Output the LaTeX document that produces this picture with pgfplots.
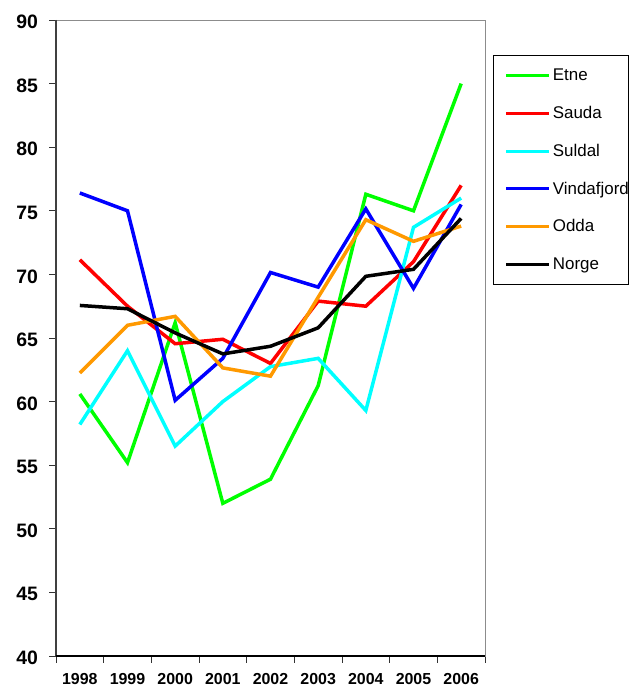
\documentclass[border=0pt]{standalone}
\usepackage{fontspec}
\setmainfont{Liberation Sans}
\usepackage{pgfplots}
\pgfplotsset{compat=1.18}
\definecolor{cgreen}{RGB}{0,255,0}
\definecolor{cred}{RGB}{255,0,0}
\definecolor{ccyan}{RGB}{0,255,255}
\definecolor{cblue}{RGB}{0,0,255}
\definecolor{corange}{RGB}{255,153,0}
\begin{document}
\begin{tikzpicture}
\useasboundingbox (-56bp,-32bp) rectangle (574bp,656bp);
\begin{axis}[
  scale only axis, width=429bp, height=636bp,
  xmin=0, xmax=9, ymin=40, ymax=90,
  xtick={0,1,2,3,4,5,6,7,8,9},
  x tick label as interval,
  xticklabels={1998,1999,2000,2001,2002,2003,2004,2005,2006},
  ytick={40,45,50,55,60,65,70,75,80,85,90},
  tick align=outside, xtick pos=bottom, ytick pos=left,
  major tick length=6.5bp,
  tick style={black!80, line width=0.8bp},
  axis line style={draw=black!45, line width=0.8bp},
  /pgf/number format/assume math mode=true,
  yticklabel style={font=\bfseries\fontsize{19.5}{21}\selectfont, xshift=-8bp, yshift=-2bp},
  xticklabel style={font=\bfseries\fontsize{16}{17}\selectfont, yshift=-7.5bp},
  every axis plot/.append style={line width=3.5bp},
  legend cell align=left,
  legend image code/.code={\path (0bp,0bp) (54bp,0bp); \draw[#1, line width=3bp] (11bp,0bp) -- (54bp,0bp);},
  legend style={at={(1,1)}, anchor=north west, xshift=8bp, yshift=-35bp,
    draw=black, line width=0.75bp, inner xsep=0pt, inner ysep=1.5bp,
    column sep=2bp,
    font=\fontsize{17}{19}\selectfont,
    nodes={inner sep=0pt, minimum height=37.7bp}},
  after end axis/.code={
    \draw[black!75, line width=1.2bp] (rel axis cs:0,1) -- (rel axis cs:0,0);
    \draw[black, line width=1.2bp] (rel axis cs:0,0) -- (rel axis cs:1,0);
  },
]
\addplot[cgreen] coordinates {(0.5,60.6) (1.5,55.2) (2.5,66.2) (3.5,52.0) (4.5,53.9) (5.5,61.25) (6.5,76.3) (7.5,75.0) (8.5,85.0)};
\addlegendentry{Etne}
\addplot[cred] coordinates {(0.5,71.15) (1.5,67.5) (2.5,64.55) (3.5,64.9) (4.5,63.0) (5.5,67.9) (6.5,67.5) (7.5,71.0) (8.5,77.0)};
\addlegendentry{Sauda}
\addplot[ccyan] coordinates {(0.5,58.2) (1.5,64.0) (2.5,56.5) (3.5,60.0) (4.5,62.75) (5.5,63.4) (6.5,59.3) (7.5,73.7) (8.5,76.0)};
\addlegendentry{Suldal}
\addplot[cblue] coordinates {(0.5,76.4) (1.5,75.0) (2.5,60.1) (3.5,63.4) (4.5,70.15) (5.5,69.0) (6.5,75.15) (7.5,68.9) (8.5,75.5)};
\addlegendentry{Vindafjord}
\addplot[corange] coordinates {(0.5,62.25) (1.5,66.0) (2.5,66.7) (3.5,62.65) (4.5,62.0) (5.5,68.2) (6.5,74.3) (7.5,72.6) (8.5,73.8)};
\addlegendentry{Odda}
\addplot[black] coordinates {(0.5,67.56) (1.5,67.3) (2.5,65.4) (3.5,63.75) (4.5,64.35) (5.5,65.8) (6.5,69.85) (7.5,70.4) (8.5,74.4)};
\addlegendentry{Norge}
\end{axis}
\end{tikzpicture}
\end{document}
